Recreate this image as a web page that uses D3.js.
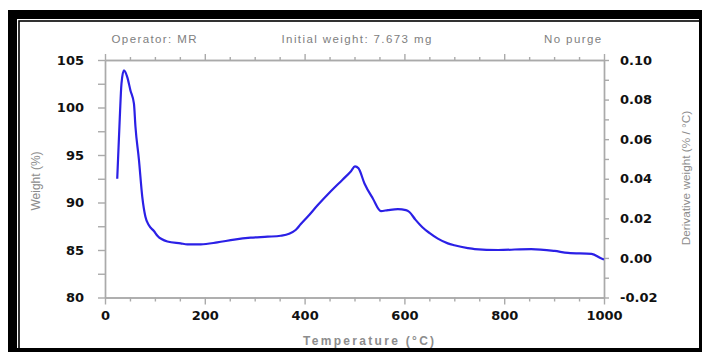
<!DOCTYPE html>
<html>
<head>
<meta charset="utf-8">
<script src="https://cdn.jsdelivr.net/npm/d3@7/dist/d3.min.js"></script>
<style>
  html, body { margin: 0; padding: 0; background: #fff; }
  svg { display: block; }
  .tick text { font-family: "DejaVu Sans", Verdana, sans-serif; font-weight: bold; font-size: 13px; fill: #111; }
  .axis path, .axis line { stroke: #aaaaaa; stroke-width: 1.4; }
  .hdr { font-family: "Liberation Sans", Arial, sans-serif; font-size: 11.5px; fill: #808080; letter-spacing: 1.4px; }
  .ttl { font-family: "Liberation Sans", Arial, sans-serif; fill: #8c8c8c; }
</style>
</head>
<body>
<script>
// TGA run: sample weight (%) vs temperature (°C)
const temperature = [24.5, 29.7, 33, 37.8, 44.6, 51, 58, 61, 68, 74.7, 81, 88, 98, 105, 125, 151.6,
  165, 192, 225, 259, 292, 326, 352, 369, 382, 392, 406, 426, 453, 476, 493, 501, 508, 520, 537,
  553, 567, 587, 603, 610, 622, 636, 650, 667, 687, 700, 727, 741, 788, 854, 901, 928, 975, 995, 1000];
const weight = [92.5, 99.0, 102.5, 103.9, 103.2, 101.8, 100.4, 98.0, 94.5, 90.6, 88.5, 87.6, 87.0, 86.5, 85.9, 85.7,
  85.6, 85.6, 85.8, 86.1, 86.3, 86.4, 86.5, 86.7, 87.1, 87.7, 88.5, 89.7, 91.2, 92.4, 93.3, 93.8, 93.6, 92.0, 90.4,
  89.1, 89.2, 89.3, 89.2, 89.0, 88.2, 87.4, 86.8, 86.2, 85.7, 85.5, 85.2, 85.1, 85.0, 85.1, 84.9, 84.7, 84.6, 84.1, 84.0];

const xTicks = [0, 200, 400, 600, 800, 1000];
const weightTicks = [80, 85, 90, 95, 100, 105];
const derivTicks = [-0.02, 0.00, 0.02, 0.04, 0.06, 0.08, 0.10];
const headerNotes = ["Operator: MR", "Initial weight: 7.673 mg", "No purge"];
const xTitle = "Temperature  (°C)";
const yTitle = "Weight  (%)";
const y2Title = "Derivative weight  (% / °C)";

const W = 702, H = 352;
const plot = { left: 105, right: 604, top: 60, bottom: 297.5 };

const svg = d3.select("body").append("svg").attr("width", W).attr("height", H);

// double black frame
svg.append("rect").attr("x", 8).attr("y", 10).attr("width", 720).attr("height", 370).attr("fill", "#000");
svg.append("rect").attr("x", 17).attr("y", 19).attr("width", 682).attr("height", 329).attr("fill", "#fff");
svg.append("rect").attr("x", 19).attr("y", 21).attr("width", 700).attr("height", 350)
  .attr("fill", "none").attr("stroke", "#000").attr("stroke-width", 1.6);

const x = d3.scaleLinear().domain([0, 1000]).range([plot.left, plot.right]);
const y = d3.scaleLinear().domain([80, 105]).range([plot.bottom, plot.top]);
const y2 = d3.scaleLinear().domain([-0.02, 0.10]).range([plot.bottom, plot.top]);

const minorX = d3.range(0, 1001, 50).filter(v => v % 200 !== 0);
const minorY = d3.range(82.5, 105, 5);
const minorY2 = d3.range(-0.01, 0.10, 0.02);

// plain hyphen for negative labels
const fmt2 = v => v.toFixed(2);

function cleanAxis(g) { g.classed("axis", true); }

// bottom axis
svg.append("g").attr("transform", `translate(0,${plot.bottom})`)
  .call(d3.axisBottom(x).tickValues(minorX).tickSize(4).tickSizeOuter(0).tickFormat(""))
  .call(cleanAxis);
svg.append("g").attr("transform", `translate(0,${plot.bottom})`)
  .call(d3.axisBottom(x).tickValues(xTicks).tickSize(7).tickSizeOuter(0).tickPadding(6).tickFormat(d3.format("d")))
  .call(cleanAxis);

// top axis (ticks only)
svg.append("g").attr("transform", `translate(0,${plot.top})`)
  .call(d3.axisTop(x).tickValues(minorX).tickSize(3).tickSizeOuter(0).tickFormat(""))
  .call(cleanAxis);
svg.append("g").attr("transform", `translate(0,${plot.top})`)
  .call(d3.axisTop(x).tickValues(xTicks).tickSize(6).tickSizeOuter(0).tickFormat(""))
  .call(cleanAxis);

// left axis: weight
svg.append("g").attr("transform", `translate(${plot.left},0)`)
  .call(d3.axisLeft(y).tickValues(minorY).tickSize(7).tickSizeOuter(0).tickFormat(""))
  .call(cleanAxis);
svg.append("g").attr("transform", `translate(${plot.left},0)`)
  .call(d3.axisLeft(y).tickValues(weightTicks).tickSize(7).tickSizeOuter(0).tickPadding(14).tickFormat(d3.format("d")))
  .call(cleanAxis);

// right axis: derivative weight
svg.append("g").attr("transform", `translate(${plot.right},0)`)
  .call(d3.axisRight(y2).tickValues(minorY2).tickSize(5).tickSizeOuter(0).tickFormat(""))
  .call(cleanAxis);
svg.append("g").attr("transform", `translate(${plot.right},0)`)
  .call(d3.axisRight(y2).tickValues(derivTicks).tickSize(5).tickSizeOuter(0).tickPadding(11).tickFormat(fmt2))
  .call(cleanAxis);

// weight curve
const pts = temperature.map((t, i) => [t, weight[i]]);
svg.append("path").datum(pts)
  .attr("fill", "none").attr("stroke", "#2b20e6").attr("stroke-width", 2.2)
  .attr("stroke-linejoin", "round")
  .attr("d", d3.line().x(d => x(d[0])).y(d => y(d[1])).curve(d3.curveMonotoneX));

// header notes
const hdrX = [111.5, 281.5, 544];
svg.selectAll("text.hdr").data(headerNotes).join("text")
  .attr("class", "hdr").attr("x", (d, i) => hdrX[i]).attr("y", 43.3).text(d => d);

// axis titles
svg.append("text").attr("class", "ttl").attr("x", 303).attr("y", 344.5)
  .style("font-size", "12px").style("font-weight", "bold").style("letter-spacing", "2.3px")
  .text(xTitle);
svg.append("text").attr("class", "ttl")
  .attr("transform", "translate(40,181) rotate(-90)").attr("text-anchor", "middle")
  .style("font-size", "12px").text(yTitle);
svg.append("text").attr("class", "ttl")
  .attr("transform", "translate(690,178) rotate(-90)").attr("text-anchor", "middle")
  .style("font-size", "11.8px").text(y2Title);
</script>
</body>
</html>
